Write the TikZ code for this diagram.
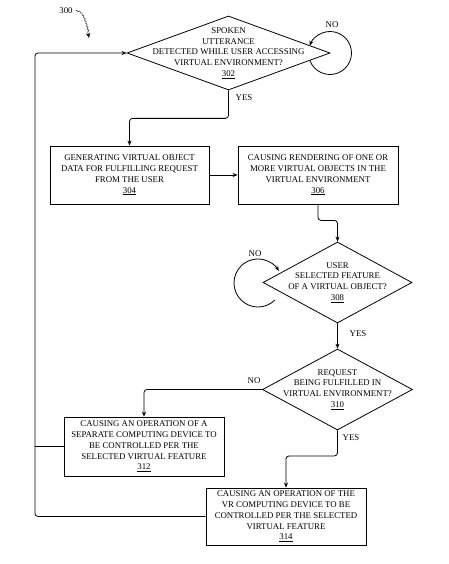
\documentclass[tikz,border=0pt]{standalone}
\usepackage{fontspec}
\setmainfont{Liberation Serif}
\usetikzlibrary{shapes.geometric,arrows.meta,decorations.pathmorphing}
\begin{document}
\begin{tikzpicture}[x=1pt,y=-1pt,
  every node/.style={font=\fontsize{8.8}{10.8}\selectfont},
  box/.style={draw,line width=0.8pt,minimum width=160pt,minimum height=58pt,inner sep=0pt},
  dia/.style={draw,diamond,line width=0.8pt,inner sep=0pt},
  txt/.style={align=center,inner sep=0pt},
  lbl/.style={inner sep=1pt},
  conn/.style={line width=0.8pt,rounded corners=3pt},
  arr/.style={conn,-{Stealth[length=5pt,width=4pt]}}]
\useasboundingbox (0,0) rectangle (448,564);
% diamonds
\node[dia,minimum width=203pt,minimum height=74pt] (d302) at (228.5,53) {};
\node[txt] at (d302) {SPOKEN\\UTTERANCE\\DETECTED WHILE USER ACCESSING\\VIRTUAL ENVIRONMENT?\\\underline{302}};
\node[dia,minimum width=149pt,minimum height=81pt] (d308) at (337.5,282.5) {};
\node[txt] at (d308) {USER\\SELECTED FEATURE\\OF A VIRTUAL OBJECT?\\\underline{308}};
\node[dia,minimum width=150pt,minimum height=81pt] (d310) at (337.5,389.5) {};
\node[txt] at (d310) {REQUEST\\BEING FULFILLED IN\\VIRTUAL ENVIRONMENT?\\\underline{310}};
% boxes
\node[box,txt,minimum width=159pt] (b304) at (129.5,175) {GENERATING VIRTUAL OBJECT\\DATA FOR FULFILLING REQUEST\\FROM THE USER\\\underline{304}};
\node[box,txt] (b306) at (318,175) {CAUSING RENDERING OF ONE OR\\MORE VIRTUAL OBJECTS IN THE\\VIRTUAL ENVIRONMENT\\\underline{306}};
\node[box,txt,minimum height=59pt] (b312) at (144,446.5) {CAUSING AN OPERATION OF A\\SEPARATE COMPUTING DEVICE TO\\BE CONTROLLED PER THE\\SELECTED VIRTUAL FEATURE\\\underline{312}};
\node[box,txt,minimum height=57pt] (b314) at (286,516.5) {CAUSING AN OPERATION OF THE\\VR COMPUTING DEVICE TO BE\\CONTROLLED PER THE SELECTED\\VIRTUAL FEATURE\\\underline{314}};
% labels
\node[lbl] (n300) at (66,11) {300};
\node[lbl] (no1) at (332,25) {NO};
\node[lbl] (yes1) at (244,98) {YES};
\node[lbl] (no2) at (255,254) {NO};
\node[lbl] (yes2) at (358,334) {YES};
\node[lbl] (no3) at (254,381) {NO};
\node[lbl] (yes3) at (351,438) {YES};
\coordinate (tip300) at (89,38);
\draw[line width=0.4pt,-{Stealth[length=5pt,width=4pt]},decorate,decoration={snake,amplitude=0.6pt,segment length=3pt,post length=5pt}]
  ([xshift=2pt]n300.east) .. controls (82,10) and (86,22) .. (tip300);
% connectors
\draw[arr] (d302.south) -- ++(0,28) -| (b304.north);
\draw[arr] (b304.east) -- (b306.west);
\draw[arr] (b306.south) -- ++(0,16) -| (d308.north);
\draw[arr] (d308.south) -- (d310.north);
\draw[arr] (d310.west) -| (b312.north);
\draw[arr] (d310.south) -- ++(0,25.5) -| (b314.north);
\coordinate (fbl) at (35,516.5);
\coordinate (fbt) at (35,53);
\draw[arr] (b314.west) -- (fbl) -- (fbt) -- (d302.west);
\draw[conn] (b312.west) -- (35,446.5);
% self loops
\coordinate (c1) at (330,53);
\coordinate (c2) at (258,283);
\draw[line width=0.8pt,-{Stealth[length=5pt,width=4pt]}] ([shift={(200:21.5pt)}]c1) arc[start angle=200,end angle=520,radius=21.5pt];
\draw[line width=0.8pt,-{Stealth[length=5pt,width=4pt]}] ([shift={(-45:24pt)}]c2) arc[start angle=-45,end angle=-330,radius=24pt];
\end{tikzpicture}
\end{document}
